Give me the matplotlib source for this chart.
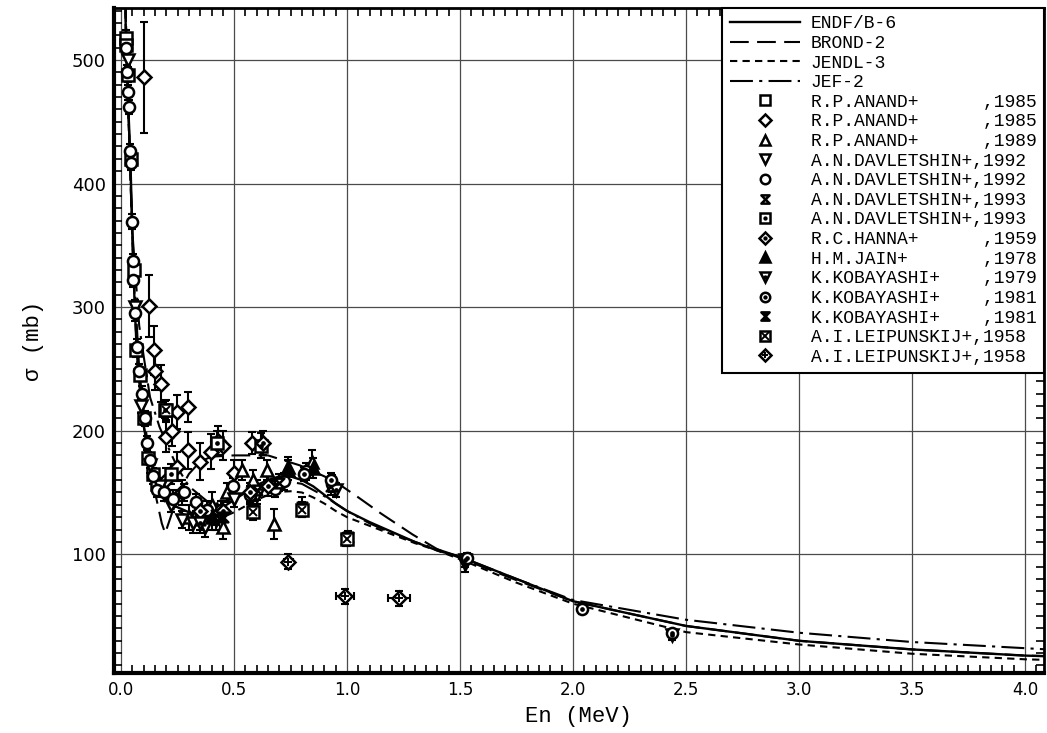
import numpy as np
import matplotlib
matplotlib.use("Agg")
import matplotlib.pyplot as plt
from matplotlib.legend_handler import HandlerLine2D, HandlerTuple
from matplotlib.lines import Line2D
from matplotlib.path import Path
from matplotlib.ticker import MultipleLocator

# evaluated curves
e_endf = [0.01, 0.02, 0.03, 0.04, 0.05, 0.06, 0.07, 0.08, 0.09, 0.10, 0.12, 0.14, 0.16, 0.20, 0.25, 0.30,
          0.35, 0.40, 0.45, 0.50, 0.55, 0.60, 0.65, 0.70, 0.75, 0.80, 0.85, 0.90, 0.95, 1.00, 1.10, 1.20,
          1.30, 1.40, 1.50, 1.75, 2.00, 2.50, 3.00, 3.50, 4.00, 4.10]
s_endf = [700, 530, 470, 425, 360, 300, 262, 240, 222, 205, 180, 165, 155, 145, 138, 134,
          132, 134, 138, 144, 150, 156, 160, 163, 163, 160, 155, 148, 141, 135, 126, 118,
          110, 103, 98, 80, 62, 42, 30, 23, 18, 17.5]

e_brond = [0.01, 0.02, 0.05, 0.08, 0.10, 0.12, 0.15, 0.18, 0.195, 0.23, 0.27, 0.30, 0.35, 0.40, 0.50,
           0.65, 0.79, 0.90, 0.97, 1.05, 1.15, 1.29, 1.40, 1.50, 1.75, 2.00, 2.50, 3.00, 3.50, 4.00, 4.10]
s_brond = [700, 540, 350, 250, 215, 185, 150, 125, 117, 136, 155, 165, 175, 179, 180,
           180, 172, 163, 156, 146, 133, 116, 104, 97, 79, 62, 42, 30, 23, 18, 17.5]

e_jendl = [0.01, 0.02, 0.03, 0.05, 0.07, 0.10, 0.14, 0.20, 0.30, 0.40, 0.45, 0.50, 0.55, 0.60, 0.65,
           0.70, 0.75, 0.80, 0.85, 0.90, 0.95, 1.00, 1.10, 1.20, 1.30, 1.40, 1.50, 1.75, 2.00, 2.50,
           3.00, 3.50, 4.00, 4.10]
s_jendl = [700, 525, 465, 355, 258, 203, 163, 140, 130, 128, 130, 134, 139, 144, 148,
           150.5, 151, 150, 146, 141, 135, 130, 123, 116, 109, 103, 96, 77, 60, 37,
           27, 19.5, 15, 14.5]

e_jef = [0.01, 0.02, 0.03, 0.05, 0.08, 0.10, 0.128, 0.17, 0.217, 0.25, 0.30, 0.40, 0.50, 0.60, 0.70,
         0.80, 0.90, 1.00, 1.10, 1.20, 1.30, 1.40, 1.50, 1.75, 2.00, 2.50, 3.00, 3.50, 4.00, 4.10]
s_jef = [700, 540, 470, 360, 285, 260, 227, 203, 183, 170, 155, 140, 145, 155, 160,
         157, 147, 135, 125, 117, 110, 104, 98, 80, 63, 47, 36.5, 29, 24, 23]

# experimental data: energy (MeV), sigma (mb), error (mb)
e_anand85a = [0.020, 0.023, 0.030, 0.042, 0.055, 0.068, 0.082, 0.100, 0.120, 0.140, 0.160]
s_anand85a = [518, 512, 488, 420, 330, 265, 245, 210, 178, 165, 157]
d_anand85a = [6, 6, 6, 6, 5, 5, 5, 5, 5, 5, 5]

e_anand85b = [0.102, 0.125, 0.147, 0.150, 0.175, 0.200, 0.224, 0.246, 0.298, 0.246, 0.298, 0.347,
              0.398, 0.430, 0.453, 0.500, 0.578, 0.270, 0.200]
s_anand85b = [486, 301, 265, 248, 238, 195, 200, 215, 219, 171, 184, 175,
              183, 192, 188, 166, 190, 150, 160]
d_anand85b = [45, 25, 20, 15, 15, 12, 12, 14, 12, 12, 15, 15, 14, 12, 12, 10, 9, 10, 10]

e_anand89 = [0.453, 0.677, 0.534, 0.645, 0.740, 0.844, 0.585, 0.300, 0.400, 0.470]
s_anand89 = [122, 124.5, 168, 168, 171, 175, 160, 130, 140, 150]
d_anand89 = [10, 12, 8, 8, 8, 9, 8, 10, 10, 8]

e_davl92a = [0.030, 0.060, 0.090, 0.130, 0.170, 0.220, 0.270, 0.320, 0.370, 0.420, 0.500, 0.600, 1.520]
s_davl92a = [500, 300, 220, 172, 155, 140, 128, 125, 122, 128, 145, 148, 92]
d_davl92a = [8, 6, 6, 6, 6, 6, 7, 8, 8, 8, 7, 7, 6]

e_davl92b = [0.022, 0.025, 0.032, 0.035, 0.040, 0.043, 0.047, 0.054, 0.054, 0.062, 0.069, 0.077,
             0.092, 0.106, 0.114, 0.128, 0.143, 0.158, 0.190, 0.230, 0.280, 0.330, 0.380, 0.440,
             0.497, 0.570, 0.680, 0.720, 0.820, 0.932]
s_davl92b = [510, 490, 474, 462, 426, 417, 369, 337, 322, 295, 268, 248,
             230, 210, 190, 176, 163, 152, 150, 145, 150, 142, 136, 136,
             155, 148, 153, 159, 167, 157]
d_davl92b = [6] * 18 + [7] * 12

e_davl93a = [0.350, 0.420, 0.600, 0.700, 0.930]
s_davl93a = [128, 132, 152, 158, 155]
d_davl93a = [8, 8, 8, 7, 7]

e_davl93b = [0.195, 0.220, 0.425, 0.620]
s_davl93b = [217, 165, 190, 188]
d_davl93b = [7, 8, 10, 10]

e_hanna = [0.627, 0.570, 0.650, 0.450, 0.350]
s_hanna = [190, 150, 155, 135, 135]
d_hanna = [10, 8, 8, 8, 8]

e_jain = [0.850, 0.740, 0.400]
s_jain = [170, 168, 130]
d_jain = [8, 8, 10]

e_koba79 = [1.520, 2.437, 0.950, 0.350]
s_koba79 = [95, 35, 152, 125]
d_koba79 = [5, 4, 6, 8]

e_koba81a = [2.040, 1.530, 2.440, 0.810, 0.930]
s_koba81a = [55.5, 97, 36, 165, 160]
d_koba81a = [4, 4, 3, 6, 6]

e_koba81b = [1.006, 0.800, 0.585, 0.450, 0.995]
s_koba81b = [113.8, 138.5, 136, 130, 112]
d_koba81b = [5, 8, 7, 8, 5]

e_leip58a = [0.585, 0.800, 1.000, 0.200]
s_leip58a = [134, 136, 112, 217]
d_leip58a = [6, 6, 5, 8]

e_leip58b = [0.740, 0.990, 1.230]
s_leip58b = [94, 66, 64.4]
d_leip58b = [6, 6, 6]
x_leip58b = [0.02, 0.04, 0.05]

# hourglass markers
hourglass = Path([(-1, 1), (1, 1), (-1, -1), (1, -1), (-1, 1)],
                 [Path.MOVETO, Path.LINETO, Path.LINETO, Path.LINETO, Path.CLOSEPOLY])


class RightMarker(HandlerLine2D):
    def get_xdata(self, legend, xdescent, ydescent, width, height, fontsize):
        return [-xdescent, -xdescent + width], [-xdescent + 0.84 * width]


fig = plt.figure(figsize=(10.47, 7.33), dpi=100)
ax = fig.add_axes([0.109, 0.082, 0.888, 0.907])


def exp_series(E, s, ds, marker, filled=False, inner=None, xerr=None, ms=8):
    ax.errorbar(E, s, yerr=ds, xerr=xerr, fmt='none', ecolor='k', elinewidth=1.5,
                capsize=3, capthick=1.5, zorder=3)
    h, = ax.plot(E, s, ls='none', marker=marker, ms=ms, mfc='k' if filled else 'white',
                 mec='k', mew=1.8, zorder=4)
    hs = [h]
    if inner is not None:
        h2, = ax.plot(E, s, ls='none', marker=inner, ms=4 if inner == '.' else ms * 0.8,
                      color='k', mew=1.4, zorder=5)
        hs.append(h2)
    return tuple(hs)


l1, = ax.plot(e_endf, s_endf, color='k', lw=1.7, zorder=2)
l2, = ax.plot(e_brond, s_brond, color='k', lw=1.5, dashes=(9, 4), zorder=2)
l3, = ax.plot(e_jendl, s_jendl, color='k', lw=1.5, dashes=(3.5, 2.5), zorder=2)
l4, = ax.plot(e_jef, s_jef, color='k', lw=1.5, dashes=(11, 3, 1.5, 3), zorder=2)

h1 = exp_series(e_anand85a, s_anand85a, d_anand85a, 's')
h2 = exp_series(e_anand85b, s_anand85b, d_anand85b, 'D', ms=7)
h3 = exp_series(e_anand89, s_anand89, d_anand89, '^')
h4 = exp_series(e_davl92a, s_davl92a, d_davl92a, 'v')
h5 = exp_series(e_davl92b, s_davl92b, d_davl92b, 'o')
h6 = exp_series(e_davl93a, s_davl93a, d_davl93a, hourglass, ms=7)
h7 = exp_series(e_davl93b, s_davl93b, d_davl93b, 's', inner='.')
h8 = exp_series(e_hanna, s_hanna, d_hanna, 'D', inner='.', ms=7)
h9 = exp_series(e_jain, s_jain, d_jain, '^', filled=True)
h10 = exp_series(e_koba79, s_koba79, d_koba79, 'v', inner='.')
h11 = exp_series(e_koba81a, s_koba81a, d_koba81a, 'o', inner='.')
h12 = exp_series(e_koba81b, s_koba81b, d_koba81b, hourglass, filled=True, ms=7)
h13 = exp_series(e_leip58a, s_leip58a, d_leip58a, 's', inner='x')
h14 = exp_series(e_leip58b, s_leip58b, d_leip58b, 'D', inner='+', xerr=x_leip58b, ms=7)

ax.set_xlim(-0.031, 4.084)
ax.set_ylim(4, 542)
ax.xaxis.set_major_locator(MultipleLocator(0.5))
ax.xaxis.set_minor_locator(MultipleLocator(0.05))
ax.yaxis.set_major_locator(MultipleLocator(100))
ax.yaxis.set_minor_locator(MultipleLocator(10))
ax.xaxis.set_major_formatter(plt.FuncFormatter(lambda v, p: f"{v:.1f}"))
ax.grid(True, which='major', color='#4a4a4a', lw=0.9)
ax.tick_params(which='both', direction='in', top=True, right=True, width=1.2, colors='k')
ax.tick_params(which='minor', length=6)
ax.tick_params(axis='x', which='major', length=0, pad=6)
ax.tick_params(axis='y', which='major', length=0, pad=6)
for lab in ax.get_xticklabels():
    lab.set_fontfamily('DejaVu Sans')
    lab.set_fontsize(12)
for lab in ax.get_yticklabels():
    lab.set_fontfamily('DejaVu Sans')
    lab.set_fontsize(13)
for side in ['left', 'bottom']:
    ax.spines[side].set_linewidth(3)
for side in ['top', 'right']:
    ax.spines[side].set_linewidth(2)

ax.set_xlabel("En (MeV)", fontfamily='Liberation Mono', fontsize=16, labelpad=5)
ax.set_ylabel("σ (mb)", fontfamily=['Liberation Mono', 'DejaVu Sans'], fontsize=16, labelpad=20)

labels = ["ENDF/B-6", "BROND-2", "JENDL-3", "JEF-2",
          "R.P.ANAND+      ,1985", "R.P.ANAND+      ,1985", "R.P.ANAND+      ,1989",
          "A.N.DAVLETSHIN+,1992", "A.N.DAVLETSHIN+,1992", "A.N.DAVLETSHIN+,1993",
          "A.N.DAVLETSHIN+,1993", "R.C.HANNA+      ,1959", "H.M.JAIN+       ,1978",
          "K.KOBAYASHI+    ,1979", "K.KOBAYASHI+    ,1981", "K.KOBAYASHI+    ,1981",
          "A.I.LEIPUNSKIJ+,1958", "A.I.LEIPUNSKIJ+,1958"]
handles = [l1, l2, l3, l4, h1, h2, h3, h4, h5, h6, h7, h8, h9, h10, h11, h12, h13, h14]
leg = ax.legend(handles, labels, loc='upper right', bbox_to_anchor=(1.0, 1.0), borderaxespad=0,
                prop={'family': 'Liberation Mono', 'size': 13}, handlelength=3.9,
                handletextpad=0.6, labelspacing=0.145, borderpad=0.4, fancybox=False,
                framealpha=1, edgecolor='k', markerscale=0.85,
                handler_map={tuple: HandlerTuple(ndivide=1, pad=0), Line2D: RightMarker()})
leg.get_frame().set_linewidth(1.5)
leg.set_zorder(10)

fig.savefig("out.png", dpi=100)
